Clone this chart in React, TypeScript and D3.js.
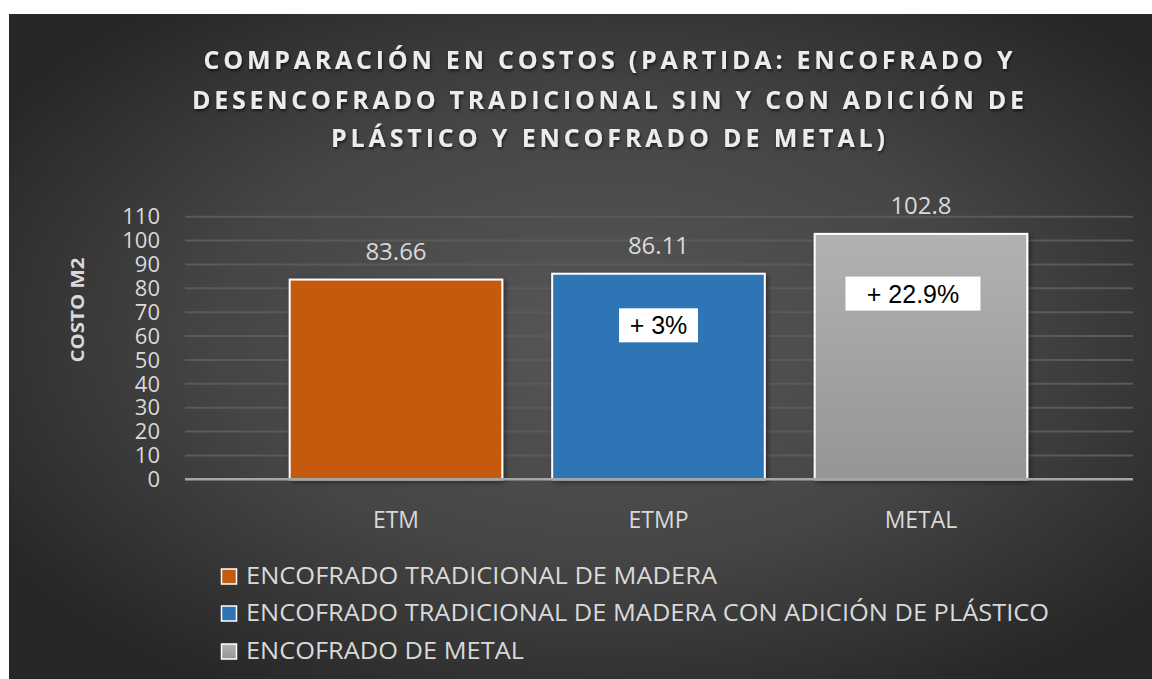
import React from "react";
import * as d3 from "d3";

const categories = ["ETM", "ETMP", "METAL"];
const values = [83.66, 86.11, 102.8];
const valueLabels = ["83.66", "86.11", "102.8"];
const seriesNames = [
  "ENCOFRADO TRADICIONAL DE MADERA",
  "ENCOFRADO TRADICIONAL DE MADERA CON ADICIÓN DE PLÁSTICO",
  "ENCOFRADO DE METAL",
];
const yTicks = [0, 10, 20, 30, 40, 50, 60, 70, 80, 90, 100, 110];
const annotations = [null, "+ 3%", "+ 22.9%"];
const annotationValues = [null, 64.5, 77.8];
const titleLines = [
  "COMPARACIÓN EN COSTOS (PARTIDA: ENCOFRADO Y",
  "DESENCOFRADO TRADICIONAL SIN Y CON ADICIÓN DE",
  "PLÁSTICO Y ENCOFRADO DE METAL)",
];
const yAxisTitle = "COSTO M2";

const fills = ["#c55a11", "#2e75b6", "url(#grayGrad)"];
const textColor = "#d9d9d9";
const font = "'Open Sans', 'Noto Sans', sans-serif";

export default function App() {
  const W = 1152;
  const H = 679;
  const y = d3.scaleLinear().domain([0, 110]).range([479.3, 216.7]);
  const x = d3
    .scaleBand<string>()
    .domain(categories)
    .range([264.75, 1052.25])
    .paddingInner(0.19)
    .paddingOuter(0.095);
  const gridX0 = 185;
  const gridX1 = 1133;
  const titleWidths = [809, 832, 554];
  const titleY = [69, 109, 147];
  const legendY = [576, 613, 651];
  const legendWidths = [471, 803, 278];

  return (
    <svg
      width={W}
      height={H}
      style={{ position: "absolute", left: 0, top: 0 }}
    >
      <defs>
        <radialGradient id="bg" cx="0.52" cy="0.48" r="0.62" fx="0.52" fy="0.48">
          <stop offset="0" stopColor="#575757" />
          <stop offset="0.55" stopColor="#454545" />
          <stop offset="1" stopColor="#272727" />
        </radialGradient>
        <linearGradient id="grayGrad" x1="0" y1="0" x2="0" y2="1">
          <stop offset="0" stopColor="#b2b2b2" />
          <stop offset="1" stopColor="#959595" />
        </linearGradient>
        <filter id="shadow" x="-10%" y="-10%" width="120%" height="130%">
          <feDropShadow dx="1" dy="2" stdDeviation="1.5" floodColor="#000" floodOpacity="0.6" />
        </filter>
        <filter id="barShadow" x="-10%" y="-10%" width="130%" height="130%">
          <feDropShadow dx="2" dy="2" stdDeviation="2.5" floodColor="#000" floodOpacity="0.45" />
        </filter>
      </defs>
      <rect x={0} y={0} width={W} height={H} fill="#ffffff" />
      <rect x={9} y={14} width={W - 9} height={H - 14} fill="url(#bg)" />

      {/* Title */}
      <g filter="url(#shadow)">
        {titleLines.map((t, i) => (
          <text
            key={i}
            x={608}
            y={titleY[i]}
            textAnchor="middle"
            fontFamily={font}
            fontWeight="bold"
            fontSize={25}
            fill="#ececec"
            textLength={titleWidths[i]}
            lengthAdjust="spacing"
          >
            {t}
          </text>
        ))}
      </g>

      {/* Grid */}
      {yTicks.map((t) =>
        t === 0 ? null : (
          <line
            key={t}
            x1={gridX0}
            x2={gridX1}
            y1={y(t)}
            y2={y(t)}
            stroke="#5a5a5a"
            strokeWidth={2}
          />
        )
      )}

      {/* Y tick labels */}
      {yTicks.map((t) => (
        <text
          key={t}
          x={160}
          y={y(t)}
          dy="0.35em"
          textAnchor="end"
          fontFamily={font}
          fontSize={22}
          fill={textColor}
        >
          {t}
        </text>
      ))}

      {/* Y axis title */}
      <text
        transform={`translate(84, ${310}) rotate(-90)`}
        textAnchor="middle"
        fontFamily={font}
        fontWeight="bold"
        fontSize={18}
        fill={textColor}
        textLength={105}
        lengthAdjust="spacingAndGlyphs"
      >
        {yAxisTitle}
      </text>

      {/* Bars */}
      {categories.map((c, i) => (
        <rect
          key={c}
          x={x(c)}
          y={y(values[i])}
          width={x.bandwidth()}
          height={y(0) - y(values[i])}
          fill={fills[i]}
          stroke="#ffffff"
          strokeWidth={2}
          filter="url(#barShadow)"
        />
      ))}

      {/* Axis line */}
      <line x1={gridX0} x2={gridX1} y1={y(0)} y2={y(0)} stroke="#a6a6a6" strokeWidth={2.5} />

      {/* Data labels */}
      {categories.map((c, i) => (
        <text
          key={c}
          x={(x(c) as number) + x.bandwidth() / 2}
          y={y(values[i]) - 20}
          textAnchor="middle"
          fontFamily={font}
          fontSize={24}
          fill={textColor}
        >
          {valueLabels[i]}
        </text>
      ))}

      {/* Annotations */}
      {categories.map((c, i) => {
        const a = annotations[i];
        if (!a) return null;
        const cx = (x(c) as number) + x.bandwidth() / 2 + (i === 2 ? -8 : 0);
        const cy = y(annotationValues[i] as number);
        const w = i === 2 ? 135 : 79;
        return (
          <g key={c}>
            <rect x={cx - w / 2} y={cy - 17} width={w} height={34} fill="#ffffff" />
            <text
              x={cx}
              y={cy}
              dy="0.36em"
              textAnchor="middle"
              fontFamily="'Liberation Sans', Arial, sans-serif"
              fontSize={25}
              fill="#000000"
            >
              {a}
            </text>
          </g>
        );
      })}

      {/* Category labels */}
      {categories.map((c) => (
        <text
          key={c}
          x={(x(c) as number) + x.bandwidth() / 2}
          y={528}
          textAnchor="middle"
          fontFamily={font}
          fontSize={23}
          fill={textColor}
        >
          {c}
        </text>
      ))}

      {/* Legend */}
      {seriesNames.map((s, i) => (
        <g key={s}>
          <rect
            x={221.5}
            y={legendY[i] - 7}
            width={15}
            height={15}
            fill={fills[i]}
            stroke="#ffffff"
            strokeWidth={1.5}
          />
          <text
            x={246}
            y={legendY[i]}
            dy="0.35em"
            fontFamily={font}
            fontSize={23}
            fill={textColor}
            textLength={legendWidths[i]}
            lengthAdjust="spacingAndGlyphs"
          >
            {s}
          </text>
        </g>
      ))}
    </svg>
  );
}
